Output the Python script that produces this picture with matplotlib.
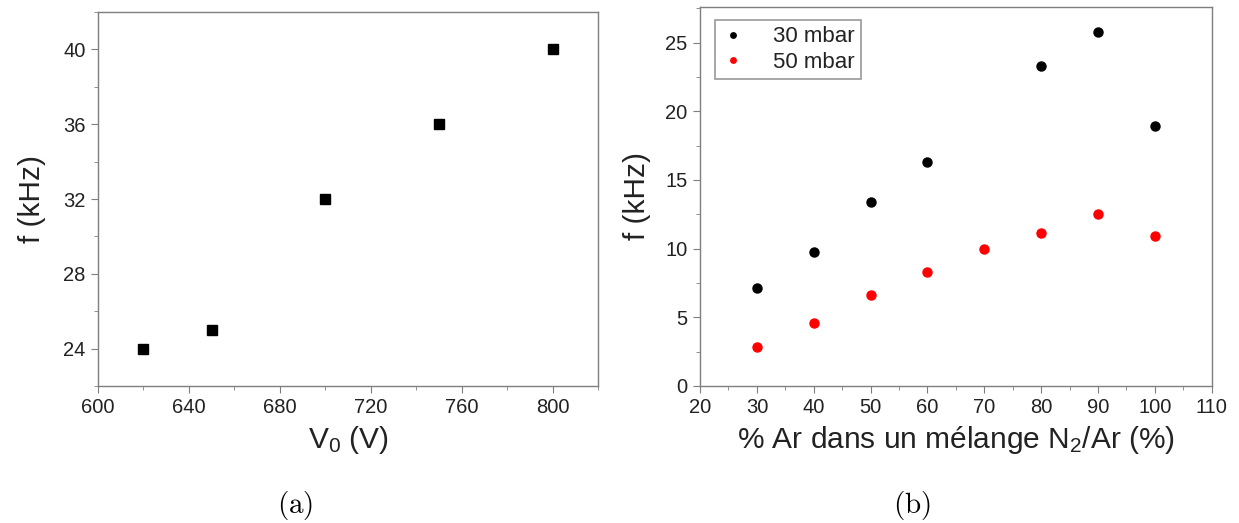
import matplotlib
matplotlib.use("Agg")
import matplotlib.pyplot as plt
from matplotlib.ticker import MultipleLocator

plt.rcParams['font.family'] = ['Liberation Sans', 'DejaVu Sans']
plt.rcParams['mathtext.fontset'] = 'custom'
plt.rcParams['mathtext.rm'] = 'Liberation Sans'
plt.rcParams['mathtext.it'] = 'Liberation Sans'

# panel (a): frequency vs voltage
v0 = [620, 650, 700, 750, 800]
f_a = [24, 25, 32, 36, 40]

# panel (b): frequency vs % Ar
ar_30 = [30, 40, 50, 60, 80, 90, 100]
f_30 = [7.1, 9.75, 13.4, 16.3, 23.3, 25.8, 18.95]
ar_50 = [30, 40, 50, 60, 70, 80, 90, 100]
f_50 = [2.85, 4.55, 6.65, 8.3, 10.0, 11.1, 12.5, 10.95]

spine_col = '#7f7f7f'
text_col = '#222222'

fig = plt.figure(figsize=(12.39, 5.23), dpi=100)
ax1 = fig.add_axes([0.079, 0.262, 0.404, 0.715])
ax2 = fig.add_axes([0.565, 0.262, 0.413, 0.725])


def style(ax):
    for s in ax.spines.values():
        s.set_color(spine_col)
        s.set_linewidth(1.0)
    ax.tick_params(which='both', direction='out', color=spine_col,
                   labelcolor=text_col, labelsize=14.5, top=False, right=False)
    ax.tick_params(which='major', length=5, pad=4)
    ax.tick_params(which='minor', length=3)


ax1.plot(v0, f_a, 's', color='black', markersize=6.5)
ax1.set_xlim(600, 820)
ax1.set_ylim(22, 42)
ax1.xaxis.set_major_locator(MultipleLocator(40))
ax1.xaxis.set_minor_locator(MultipleLocator(20))
ax1.yaxis.set_major_locator(MultipleLocator(4))
ax1.yaxis.set_minor_locator(MultipleLocator(2))
ax1.set_xlabel(r'V$_\mathrm{0}$ (V)', fontsize=21.5, color=text_col, labelpad=5)
ax1.set_ylabel('f (kHz)', fontsize=21.5, color=text_col, labelpad=12)
style(ax1)

ax2.plot(ar_30, f_30, 'o', color='black', markersize=6.5, label='30 mbar')
ax2.plot(ar_50, f_50, 'o', color='#ff0000', markersize=6.5, label='50 mbar')
ax2.set_xlim(20, 110)
ax2.set_ylim(0, 27.6)
ax2.xaxis.set_major_locator(MultipleLocator(10))
ax2.xaxis.set_minor_locator(MultipleLocator(5))
ax2.yaxis.set_major_locator(MultipleLocator(5))
ax2.yaxis.set_minor_locator(MultipleLocator(2.5))
ax2.set_xlabel(r'% Ar dans un mélange N$_\mathrm{2}$/Ar (%)', fontsize=21.5,
               color=text_col, labelpad=5)
ax2.set_ylabel('f (kHz)', fontsize=21.5, color=text_col, labelpad=10)
style(ax2)
leg = ax2.legend(loc='upper left', fontsize=16, markerscale=0.6,
                 frameon=True, fancybox=False, handletextpad=1.3,
                 borderpad=0.3, labelspacing=0.2, handlelength=1.0,
                 bbox_to_anchor=(0.03, 0.966), borderaxespad=0.0)
leg.get_frame().set_edgecolor(spine_col)
leg.get_frame().set_linewidth(1.2)
for t in leg.get_texts():
    t.set_color(text_col)

fig.text(295 / 1239, 1 - 505 / 523, r'$\mathrm{(a)}$', math_fontfamily='cm',
         fontsize=21, ha='center', va='center')
fig.text(912 / 1239, 1 - 505 / 523, r'$\mathrm{(b)}$', math_fontfamily='cm',
         fontsize=21, ha='center', va='center')

fig.savefig('out.png', dpi=100, facecolor='white')
